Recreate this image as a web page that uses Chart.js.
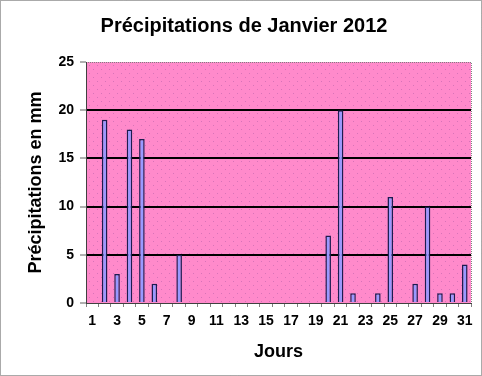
<!DOCTYPE html>
<html lang="fr">
<head>
<meta charset="UTF-8">
<title>Précipitations de Janvier 2012</title>
<script src="https://cdn.jsdelivr.net/npm/chart.js"></script>
<style>
  html, body { margin: 0; padding: 0; background: #fff; }
  #wrap { width: 482px; height: 376px; }
</style>
</head>
<body>
<div id="wrap"><canvas id="rainChart" width="482" height="376"></canvas></div>
<script>
// days of January 2012
const days = Array.from({ length: 31 }, (_, i) => String(i + 1));
// rainfall in mm per day
const rainMm = [0, 19, 3, 18, 17, 2, 0, 5, 0, 0, 0, 0, 0, 0, 0, 0, 0, 0, 0, 7,
                20, 1, 0, 1, 11, 0, 2, 10, 1, 1, 4];
const yTicks = [0, 5, 10, 15, 20, 25];

const FONT = 'Arial, "Liberation Sans", sans-serif';

// dotted pink fill of the plot area
function makePattern() {
    const c = document.createElement('canvas');
    c.width = 8; c.height = 8;
    const g = c.getContext('2d');
    g.fillStyle = '#ff8acb';
    g.fillRect(0, 0, 8, 8);
    g.fillStyle = '#d873b8';
    g.fillRect(1, 1, 1, 1);
    g.fillRect(5, 5, 1, 1);
    return g.createPattern(c, 'repeat');
}

const backdrop = {
    id: 'backdrop',
    beforeDraw(chart) {
        const { ctx, chartArea: a } = chart;
        ctx.save();
        ctx.fillStyle = makePattern();
        ctx.fillRect(a.left, a.top, a.right - a.left, a.bottom - a.top);
        // light frame around plot area
        ctx.strokeStyle = '#808080';
        ctx.lineWidth = 1;
        ctx.setLineDash([1, 1]);
        ctx.beginPath();
        ctx.moveTo(a.left, a.top + 0.5);
        ctx.lineTo(a.right + 0.5, a.top + 0.5);
        ctx.lineTo(a.right + 0.5, a.bottom);
        ctx.stroke();
        ctx.restore();
    },
    afterDraw(chart) {
        const { ctx, width, height } = chart;
        ctx.save();
        ctx.strokeStyle = '#555';
        ctx.lineWidth = 1;
        ctx.setLineDash([1, 1]);
        ctx.strokeRect(0.5, 0.5, width - 1, height - 1);
        ctx.restore();
    }
};

const ctx = document.getElementById('rainChart').getContext('2d');
new Chart(ctx, {
    type: 'bar',
    data: {
        labels: days,
        datasets: [{
            label: 'Précipitations',
            data: rainMm,
            backgroundColor: '#9999ff',
            borderColor: '#1c1c50',
            borderWidth: 1.5,
            barPercentage: 0.9,
            categoryPercentage: 0.5
        }]
    },
    options: {
        responsive: false,
        animation: false,
        layout: { padding: { left: 17, right: 11, top: 0, bottom: 0 } },
        plugins: {
            legend: { display: false },
            tooltip: { enabled: false },
            title: {
                display: true,
                text: 'Précipitations de Janvier 2012',
                color: '#000',
                font: { family: FONT, size: 20, weight: 'bold' },
                padding: { top: 14, bottom: 24 }
            }
        },
        scales: {
            x: {
                afterFit: s => { s.height = 73; },
                grid: {
                    drawOnChartArea: false,
                    offset: true,
                    tickLength: 4,
                    tickColor: '#808080'
                },
                border: { color: '#404040', width: 1 },
                ticks: {
                    autoSkip: false,
                    maxRotation: 0,
                    padding: 6,
                    color: '#000',
                    font: { family: FONT, size: 14, weight: 'bold' },
                    callback: (v, i) => (i % 2 === 0 ? days[i] : '')
                },
                title: {
                    display: true,
                    text: 'Jours',
                    color: '#000',
                    font: { family: FONT, size: 18, weight: 'bold' },
                    padding: { top: 0, bottom: 13 }
                }
            },
            y: {
                min: 0,
                max: 25,
                afterBuildTicks: s => { s.ticks = yTicks.map(v => ({ value: v })); },
                afterFit: s => { s.width = 69; },
                grid: {
                    color: c => (c.tick.value > 0 && c.tick.value < 25 ? '#000' : 'rgba(0,0,0,0)'),
                    lineWidth: 2,
                    tickLength: 6,
                    tickColor: '#606060',
                    tickWidth: 1
                },
                border: { color: '#404040', width: 1 },
                ticks: {
                    padding: 6,
                    color: '#000',
                    font: { family: FONT, size: 14, weight: 'bold' }
                },
                title: {
                    display: true,
                    text: 'Précipitations en mm',
                    color: '#000',
                    font: { family: FONT, size: 18, weight: 'bold' },
                    padding: { top: 8, bottom: 0 }
                }
            }
        }
    },
    plugins: [backdrop]
});
</script>
</body>
</html>
